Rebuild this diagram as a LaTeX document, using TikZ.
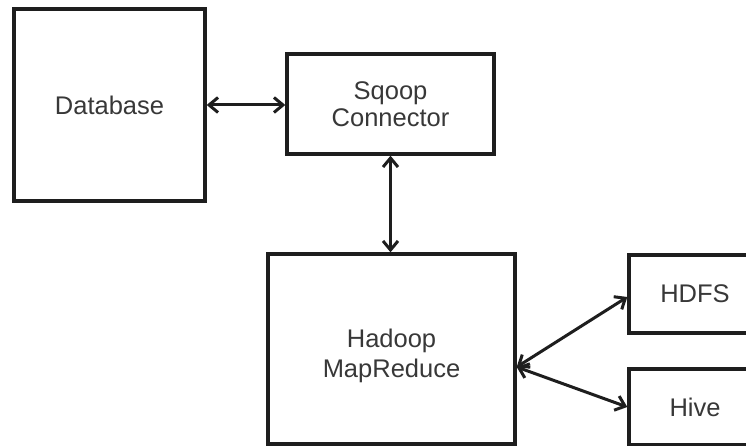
\documentclass[tikz,border=0pt]{standalone}
\usepackage{fontspec}
\setmainfont{Liberation Sans}
\usetikzlibrary{arrows.meta,calc}
\definecolor{boxline}{HTML}{1E1E1E}
\definecolor{txt}{HTML}{383838}
\begin{document}
\begin{tikzpicture}[x=1pt,y=1pt,
  blk/.style={draw=boxline,line width=3.4pt,fill=white,inner sep=0pt,align=center,
    font=\fontsize{25.5}{27}\selectfont,text=txt},
  lbl/.style={inner sep=0pt,align=center,font=\fontsize{25.5}{30}\selectfont,text=txt},
  link/.style={draw=boxline,line width=3pt,{Straight Barb[length=9pt,width=15pt,line width=3pt]}-{Straight Barb[length=9pt,width=15pt,line width=3pt]}}]
\clip (0,0) rectangle (746,446);
\fill[white] (0,0) rectangle (746,446);
\node[blk,minimum width=191pt,minimum height=192pt] (db) at (109.5,341) {Database};
\node[blk,minimum width=207pt,minimum height=100pt] (sq) at (390.5,342) {Sqoop\\Connector};
\node[blk,minimum width=247pt,minimum height=190pt] (hd) at (391.5,97) {};
\node[lbl] (hdt) at ($(hd.center)+(0,-7)$) {Hadoop\\MapReduce};
\node[blk,minimum width=132pt,minimum height=78pt] (hdfs) at (695,152) {HDFS};
\node[blk,minimum width=132pt,minimum height=76pt] (hive) at (695,39) {Hive};
\coordinate (hp) at ($(hd.east)+(0,-18)$);
\draw[link] (db.east) -- (db.east -| sq.west);
\draw[link] (sq.south) -- (sq.south |- hd.north);
\draw[link] (hp) -- ($(hdfs.west)+(0,-3)$);
\draw[link] (hp) -- (hive.west);
\end{tikzpicture}
\end{document}
